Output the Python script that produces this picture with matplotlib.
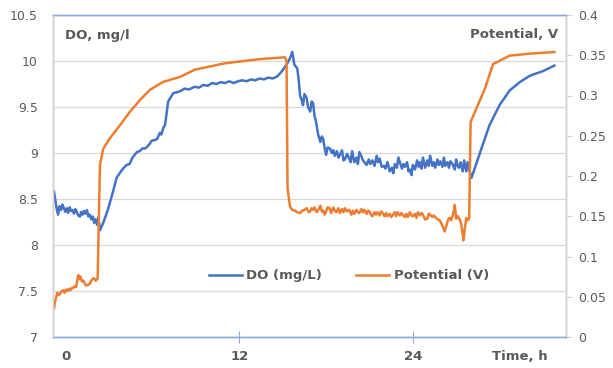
import matplotlib
matplotlib.use("Agg")
import matplotlib.pyplot as plt

# DO, mg/L (left axis), time in hours
do_time = [-0.83, -0.75, -0.65, -0.55, -0.45, -0.35, -0.25, -0.15, -0.05, 0.05, 0.15, 0.25,
           0.35, 0.45, 0.55, 0.65, 0.75, 0.85, 0.97, 1.05, 1.15, 1.25, 1.35, 1.45, 1.55, 1.65,
           1.75, 1.85, 1.95, 2.05, 2.15, 2.25, 2.35, 2.6, 2.93, 3.2, 3.5, 3.8, 4.0, 4.2, 4.4,
           4.6, 4.9, 5.1, 5.3, 5.5, 5.8, 5.9, 6.1, 6.3, 6.5, 6.6, 6.75, 6.85, 7.07, 7.42, 7.88,
           8.2, 8.5, 8.9, 9.2, 9.5, 9.8, 10.1, 10.4, 10.7, 11.0, 11.3, 11.6, 11.9, 12.2, 12.5,
           12.8, 13.1, 13.4, 13.7, 14.0, 14.3, 14.6, 14.9, 15.26, 15.5, 15.66, 15.8, 16.0,
           16.1, 16.2, 16.3, 16.4, 16.5, 16.65, 16.75, 16.9, 17.0, 17.1, 17.2, 17.3, 17.45,
           17.6, 17.7, 17.8, 17.9, 18.0, 18.1, 18.26, 18.4, 18.5, 18.6, 18.75, 18.85, 18.95,
           19.1, 19.2, 19.3, 19.45, 19.6, 19.7, 19.8, 19.95, 20.1, 20.2, 20.3, 20.45, 20.55,
           20.7, 20.8, 20.95, 21.05, 21.2, 21.35, 21.5, 21.6, 21.7, 21.85, 22.0, 22.1, 22.25,
           22.4, 22.55, 22.65, 22.75, 22.9, 23.0, 23.1, 23.25, 23.35, 23.45, 23.6, 23.7, 23.8,
           23.9, 24.0, 24.15, 24.3, 24.4, 24.5, 24.6, 24.7, 24.85, 25.0, 25.1, 25.2, 25.35,
           25.45, 25.55, 25.7, 25.8, 25.9, 26.05, 26.15, 26.25, 26.4, 26.5, 26.6, 26.75, 26.9,
           27.0, 27.1, 27.2, 27.3, 27.45, 27.55, 27.7, 27.8, 27.9, 28.06, 28.6, 29.3, 30.0,
           30.7, 31.4, 32.1, 33.0, 33.8]
do_vals = [8.58, 8.50, 8.40, 8.33, 8.42, 8.38, 8.44, 8.40, 8.36, 8.40, 8.35, 8.41,
           8.37, 8.38, 8.34, 8.39, 8.36, 8.32, 8.31, 8.36, 8.33, 8.37, 8.34, 8.38, 8.31, 8.33,
           8.28, 8.31, 8.24, 8.28, 8.22, 8.30, 8.16, 8.25, 8.40, 8.55, 8.73, 8.80, 8.84, 8.87,
           8.88, 8.95, 9.01, 9.02, 9.05, 9.05, 9.10, 9.13, 9.14, 9.15, 9.22, 9.20, 9.28, 9.30,
           9.56, 9.65, 9.67, 9.70, 9.69, 9.72, 9.71, 9.74, 9.73, 9.76, 9.75, 9.77, 9.76, 9.78,
           9.76, 9.78, 9.79, 9.78, 9.80, 9.79, 9.81, 9.80, 9.82, 9.81, 9.83, 9.88, 9.96, 10.03,
           10.10, 9.96, 9.92, 9.80, 9.62, 9.58, 9.52, 9.64, 9.60, 9.50, 9.45, 9.56, 9.54, 9.40,
           9.34, 9.20, 9.12, 9.18, 9.15, 9.05, 8.98, 9.06, 9.05, 9.00, 9.03, 8.97, 9.02, 8.95,
           8.98, 9.03, 8.92, 8.93, 8.99, 8.94, 8.90, 9.02, 8.90, 8.95, 8.88, 9.01, 8.96, 8.92,
           8.89, 8.87, 8.93, 8.88, 8.92, 8.86, 8.97, 8.90, 8.94, 8.85, 8.86, 8.83, 8.90, 8.80,
           8.84, 8.78, 8.88, 8.84, 8.95, 8.90, 8.83, 8.88, 8.85, 8.90, 8.80, 8.82, 8.76, 8.87,
           8.82, 8.92, 8.85, 8.90, 8.83, 8.95, 8.84, 8.92, 8.86, 8.97, 8.86, 8.90, 8.84, 8.93,
           8.87, 8.91, 8.85, 8.95, 8.86, 8.90, 8.84, 8.91, 8.88, 8.82, 8.93, 8.86, 8.84, 8.90,
           8.80, 8.92, 8.80, 8.90, 8.82, 8.73, 8.98, 9.30, 9.52, 9.68, 9.77, 9.84, 9.89, 9.95]

# Potential, V (right axis)
pot_time = [-0.83, -0.75, -0.7, -0.6, -0.5, -0.4, -0.3, -0.19, -0.1, 0.0, 0.1, 0.2, 0.3, 0.4,
            0.5, 0.6, 0.7, 0.78, 0.85, 0.92, 1.0, 1.1, 1.2, 1.3, 1.4, 1.54, 1.65, 1.75, 1.85,
            1.95, 2.05, 2.19, 2.28, 2.35, 2.58, 3.04, 3.73, 4.43, 5.1, 5.8, 6.73, 7.88, 8.9,
            11.0, 13.3, 15.15, 15.26, 15.33, 15.5, 15.65, 15.84, 16.0, 16.2, 16.35, 16.5, 16.65,
            16.8, 16.9, 17.0, 17.1, 17.2, 17.35, 17.5, 17.6, 17.7, 17.8, 17.9, 18.0, 18.1, 18.25,
            18.35, 18.5, 18.6, 18.7, 18.85, 18.95, 19.1, 19.2, 19.3, 19.45, 19.6, 19.75, 19.85,
            19.95, 20.1, 20.2, 20.3, 20.45, 20.55, 20.65, 20.8, 20.9, 21.0, 21.1, 21.2, 21.35,
            21.45, 21.55, 21.7, 21.8, 21.9, 22.05, 22.15, 22.25, 22.4, 22.5, 22.6, 22.75, 22.85,
            22.95, 23.1, 23.2, 23.3, 23.45, 23.55, 23.65, 23.8, 23.9, 24.0, 24.15, 24.25, 24.35,
            24.5, 24.6, 24.7, 24.85, 25.0, 25.1, 25.2, 25.35, 25.45, 25.6, 25.75, 25.9, 26.05,
            26.2, 26.35, 26.45, 26.55, 26.65, 26.75, 26.85, 26.9, 27.0, 27.1, 27.25, 27.35,
            27.45, 27.5, 27.6, 27.7, 27.8, 27.9, 28.0, 28.4, 29.0, 29.55, 30.7, 32.1, 33.8]
pot_vals = [0.036, 0.045, 0.048, 0.055, 0.052, 0.054, 0.057, 0.058, 0.055, 0.059, 0.057, 0.060,
            0.058, 0.061, 0.061, 0.063, 0.062, 0.070, 0.077, 0.072, 0.075, 0.069, 0.070, 0.066,
            0.064, 0.065, 0.066, 0.070, 0.072, 0.073, 0.070, 0.073, 0.152, 0.214, 0.234, 0.247,
            0.263, 0.280, 0.294, 0.307, 0.317, 0.323, 0.332, 0.340, 0.345, 0.3475, 0.343, 0.185,
            0.162, 0.158, 0.157, 0.155, 0.154, 0.157, 0.158, 0.160, 0.155, 0.156, 0.160, 0.158,
            0.161, 0.155, 0.159, 0.163, 0.156, 0.157, 0.152, 0.156, 0.161, 0.160, 0.154, 0.161,
            0.157, 0.155, 0.160, 0.154, 0.159, 0.155, 0.160, 0.156, 0.158, 0.152, 0.157, 0.153,
            0.158, 0.155, 0.154, 0.159, 0.155, 0.158, 0.153, 0.157, 0.156, 0.152, 0.150, 0.155,
            0.152, 0.155, 0.151, 0.156, 0.154, 0.150, 0.154, 0.150, 0.153, 0.149, 0.151, 0.155,
            0.150, 0.155, 0.151, 0.154, 0.152, 0.149, 0.153, 0.149, 0.155, 0.151, 0.150, 0.153,
            0.148, 0.155, 0.151, 0.154, 0.152, 0.146, 0.147, 0.153, 0.152, 0.149, 0.151, 0.148,
            0.146, 0.144, 0.138, 0.131, 0.140, 0.146, 0.148, 0.145, 0.150, 0.158, 0.164, 0.147,
            0.150, 0.146, 0.140, 0.128, 0.120, 0.135, 0.148, 0.145, 0.147, 0.267, 0.284, 0.309,
            0.339, 0.3495, 0.352, 0.354]

x_ticks = [0, 12, 24]
do_ticks = [7, 7.5, 8, 8.5, 9, 9.5, 10, 10.5]
pot_ticks = [0, 0.05, 0.1, 0.15, 0.2, 0.25, 0.3, 0.35, 0.4]

blue = "#4472C4"
orange = "#ED7D31"
txt = "#595959"
plt.rcParams["font.family"] = "DejaVu Sans"

W, H = 613, 368
fig = plt.figure(figsize=(W / 100, H / 100), dpi=100)
ax = fig.add_axes([53 / W, 1 - 337 / H, (566 - 53) / W, (337 - 15) / H])
ax2 = ax.twinx()

l1, = ax.plot(do_time, do_vals, color=blue, lw=1.8, label="DO (mg/L)")
l2, = ax2.plot(pot_time, pot_vals, color=orange, lw=1.8, label="Potential (V)")

ax.set_xlim(-0.9, 34.6)
ax.set_ylim(7, 10.5)
ax2.set_ylim(0, 0.4)

ax.set_yticks(do_ticks)
ax.set_yticklabels([f"{v:g}" for v in do_ticks])
ax2.set_yticks(pot_ticks)
ax2.set_yticklabels([f"{v:g}" for v in pot_ticks])
ax.grid(axis="y", color="#D9D9D9", lw=0.9)
ax.set_axisbelow(True)

ax.tick_params(axis="y", length=0, pad=11, labelsize=9, labelcolor=txt)
ax2.tick_params(axis="y", length=4, width=0.8, color="#D0D0D0", pad=5, labelsize=9,
                labelcolor=txt)
ax.set_xticks(x_ticks)
ax.set_xticklabels([str(t) for t in x_ticks], fontweight="bold")
ax.tick_params(axis="x", direction="inout", length=8, width=0.8, color="#8FAADC", pad=5,
               labelsize=9.5, labelcolor=txt)
ax.xaxis.get_major_ticks()[0].tick1line.set_visible(False)

for a in (ax, ax2):
    a.spines["top"].set_color("#8FAADC")
    a.spines["bottom"].set_color("#8FAADC")
    a.spines["left"].set_color("#D0D0D0")
    a.spines["right"].set_color("#D0D0D0")
    for s in a.spines.values():
        s.set_linewidth(1.0)

bold = dict(fontsize=9.5, fontweight="bold", color=txt)
fig.text(65 / W, 1 - 35 / H, "DO, mg/l", ha="left", va="center", **bold)
fig.text(558 / W, 1 - 35 / H, "Potential, V", ha="right", va="center", **bold)
fig.text(548 / W, 1 - 357 / H, "Time, h", ha="right", va="center", **bold)

leg = ax.legend([l1, l2], ["DO (mg/L)", "Potential (V)"], loc="center",
                bbox_to_anchor=(0.577, 0.19), ncol=2, frameon=False,
                handlelength=2.5, handletextpad=0.35, columnspacing=2.6,
                prop={"size": 9.5, "weight": "bold"})
for t in leg.get_texts():
    t.set_color(txt)

fig.savefig("out.png", dpi=100)
